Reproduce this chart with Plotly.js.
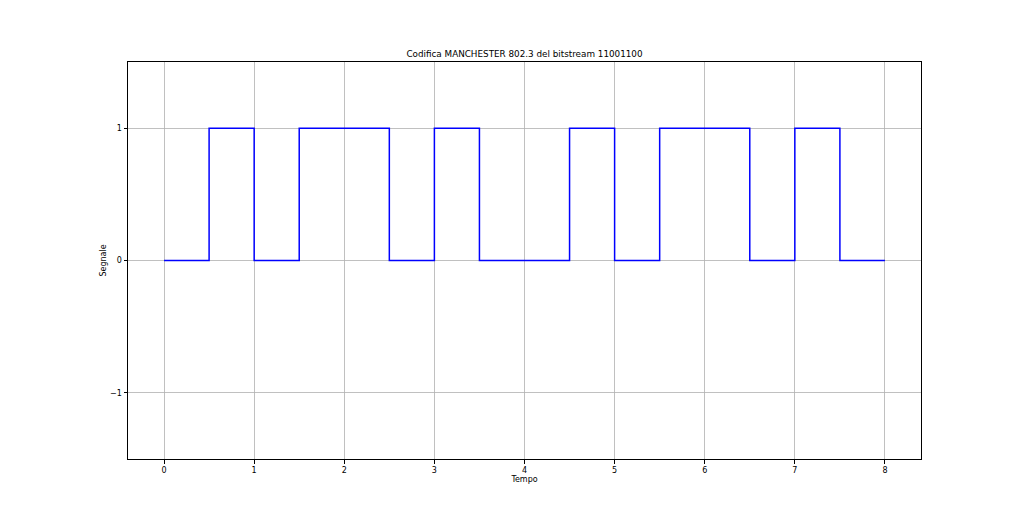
<!DOCTYPE html>
<html>
<head>
<meta charset="utf-8">
<script src="https://cdn.plot.ly/plotly-3.0.1.min.js"></script>
<style>html,body{margin:0;padding:0;background:#fff;}#chart{width:1024px;height:516px;}</style>
</head>
<body>
<div id="chart"></div>
<script>
const bitstream = "11001100";
const timePoints = [0,0.5,1,1.5,2,2.5,3,3.5,4,4.5,5,5.5,6,6.5,7,7.5,8];
const signalValues = [0,1,0,1,1,0,1,0,0,1,0,1,1,0,1,0,0];
const xTicks = [0,1,2,3,4,5,6,7,8];
const yTicks = [-1,0,1];
const yTickLabels = ["\u22121","0","1"];

const font = "DejaVu Sans, sans-serif";
const trace = {
  x: timePoints, y: signalValues, type: "scatter", mode: "lines",
  line: {shape: "hv", color: "#0000ff", width: 1.5}, hoverinfo: "skip"
};
const axisCommon = {
  showline: true, mirror: true, linecolor: "#000", linewidth: 1,
  ticks: "outside", ticklen: 3.5, tickcolor: "#000", tickwidth: 1,
  showgrid: true, gridcolor: "#b0b0b0", gridwidth: 0.8, zeroline: false,
  tickfont: {family: font, size: 8, color: "#000"}
};
const layout = {
  width: 1024, height: 516,
  margin: {l: 128, r: 103, t: 62, b: 57},
  paper_bgcolor: "#fff", plot_bgcolor: "#fff", showlegend: false,
  title: {text: "Codifica MANCHESTER 802.3 del bitstream " + bitstream,
          font: {family: font, size: 8.8, color: "#000"}, xref: "paper", x: 0.5, xanchor: "center", y: 1 - 54/516, yanchor: "middle"},
  xaxis: Object.assign({}, axisCommon, {range: [-0.4, 8.4], tickvals: xTicks,
    title: {text: "Tempo", font: {family: font, size: 8, color: "#000"}, standoff: 2}}),
  yaxis: Object.assign({}, axisCommon, {range: [-1.5, 1.5], tickvals: yTicks, ticktext: yTickLabels,
    title: {text: "Segnale", font: {family: font, size: 8, color: "#000"}, standoff: 2}})
};
Plotly.newPlot("chart", [trace], layout, {staticPlot: true, displayModeBar: false});
</script>
</body>
</html>
